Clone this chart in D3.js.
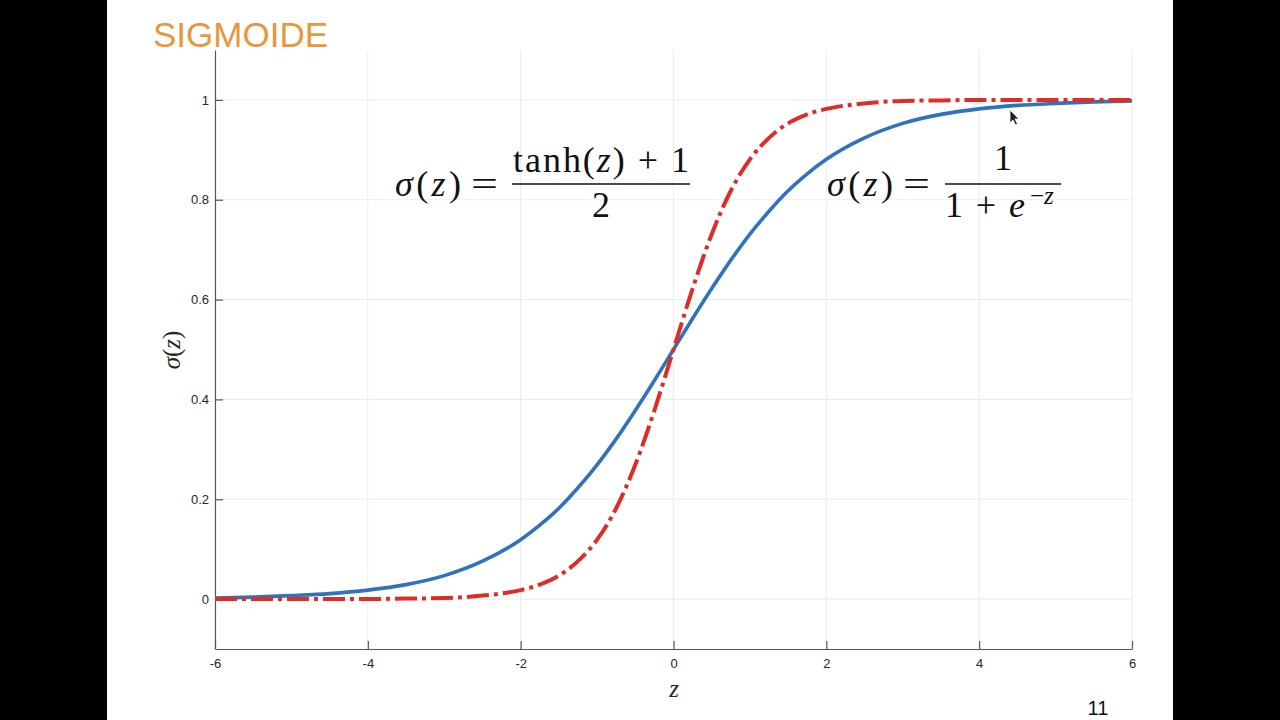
<!DOCTYPE html>
<html>
<head>
<meta charset="utf-8">
<script src="https://cdn.jsdelivr.net/npm/d3@7"></script>
<style>
  body { margin: 0; background: #000; }
  svg { display: block; }
</style>
</head>
<body>
<div id="chart"></div>
<script>
// values
var zValues   = [-6, -5.5, -5, -4.5, -4, -3.5, -3, -2.5, -2, -1.75, -1.5, -1.25, -1, -0.75, -0.5, -0.25,
                 0, 0.25, 0.5, 0.75, 1, 1.25, 1.5, 1.75, 2, 2.5, 3, 3.5, 4, 4.5, 5, 5.5, 6];
var logistic  = [0.002, 0.004, 0.007, 0.011, 0.018, 0.029, 0.047, 0.076, 0.119, 0.148, 0.182, 0.223, 0.269, 0.321, 0.378, 0.438,
                 0.5, 0.562, 0.622, 0.679, 0.731, 0.777, 0.818, 0.852, 0.881, 0.924, 0.953, 0.971, 0.982, 0.989, 0.993, 0.996, 0.998];
var tanhCurve = [0.000, 0.000, 0.000, 0.000, 0.000, 0.001, 0.002, 0.007, 0.018, 0.029, 0.047, 0.076, 0.119, 0.182, 0.269, 0.378,
                 0.5, 0.622, 0.731, 0.818, 0.881, 0.924, 0.953, 0.971, 0.982, 0.993, 0.998, 0.999, 1.000, 1.000, 1.000, 1.000, 1.000];
var xTicks = [-6, -4, -2, 0, 2, 4, 6];
var yTicks = [0, 0.2, 0.4, 0.6, 0.8, 1];
var yTickLabels = ["0", "0.2", "0.4", "0.6", "0.8", "1"];

var width = 1280, height = 720;
var svg = d3.select("#chart").append("svg")
    .attr("width", width)
    .attr("height", height);

// white slide between black bars
svg.append("rect").attr("x", 107).attr("y", 0).attr("width", 1066).attr("height", height).attr("fill", "#fff");

svg.append("text")
    .attr("x", 153).attr("y", 47)
    .attr("font-family", "Liberation Sans, Arial, sans-serif")
    .attr("font-size", 35)
    .attr("fill", "#e8973a")
    .text("SIGMOIDE");

var x = d3.scaleLinear().domain([-6, 6]).range([215, 1132]);
var y = d3.scaleLinear().domain([-0.1, 1.1]).range([649, 50]);

// grid
svg.append("g").selectAll("line").data(xTicks.slice(1)).enter().append("line")
    .attr("x1", d => x(d)).attr("x2", d => x(d))
    .attr("y1", y(-0.1)).attr("y2", y(1.1))
    .attr("stroke", "#ebebeb").attr("stroke-width", 1);
svg.append("g").selectAll("line").data(yTicks).enter().append("line")
    .attr("x1", x(-6)).attr("x2", x(6))
    .attr("y1", d => y(d)).attr("y2", d => y(d))
    .attr("stroke", "#ebebeb").attr("stroke-width", 1);

// axes, ticks inward like matlab
var xAxis = svg.append("g")
    .attr("transform", "translate(0," + y(-0.1) + ")")
    .call(d3.axisBottom(x).tickValues(xTicks).tickSizeInner(-8).tickSizeOuter(0).tickPadding(10).tickFormat(d => String(d)));
var yAxis = svg.append("g")
    .attr("transform", "translate(" + x(-6) + ",0)")
    .call(d3.axisLeft(y).tickValues(yTicks).tickSizeInner(-8).tickSizeOuter(0).tickPadding(6).tickFormat((d, i) => yTickLabels[i]));
[xAxis, yAxis].forEach(function(a){
  a.select(".domain").attr("stroke", "#555").attr("stroke-width", 1.2);
  a.selectAll(".tick line").attr("stroke", "#555").attr("stroke-width", 1.2);
  a.selectAll(".tick text")
    .attr("font-family", "Liberation Sans, Arial, sans-serif")
    .attr("font-size", 13)
    .attr("fill", "#262626");
});

// curves
var line = d3.line()
    .x((d, i) => x(zValues[i]))
    .y(d => y(d))
    .curve(d3.curveMonotoneX);

svg.append("path")
    .datum(logistic)
    .attr("d", line)
    .attr("fill", "none")
    .attr("stroke", "#2f73bd")
    .attr("stroke-width", 3.6);

svg.append("path")
    .datum(tanhCurve)
    .attr("d", line)
    .attr("fill", "none")
    .attr("stroke", "#df2c26")
    .attr("stroke-width", 4)
    .attr("stroke-dasharray", "22,5,4,5");

// formulas
var serif = "Liberation Serif, DejaVu Serif, serif";
function txt(g, x0, yb, size) {
  return g.append("text").attr("x", x0).attr("y", yb)
      .attr("font-family", serif).attr("font-size", size).attr("fill", "#111");
}
function sigmaZ(g, x0, yb) {
  var t = txt(g, x0, yb, 36).attr("textLength", 66).attr("lengthAdjust", "spacing");
  t.append("tspan").attr("font-style", "italic").text("σ");
  t.append("tspan").text("(");
  t.append("tspan").attr("font-style", "italic").text("z");
  t.append("tspan").text(")");
  txt(g, x0 + 76, yb, 36).attr("textLength", 27).attr("lengthAdjust", "spacingAndGlyphs").text("=");
}

var f1 = svg.append("g");
sigmaZ(f1, 395, 196);
var n1 = txt(f1, 513, 172, 36).attr("textLength", 176).attr("lengthAdjust", "spacing");
n1.append("tspan").text("tanh(");
n1.append("tspan").attr("font-style", "italic").text("z");
n1.append("tspan").text(")  +  1");
f1.append("line").attr("x1", 512).attr("x2", 690).attr("y1", 184).attr("y2", 184)
    .attr("stroke", "#111").attr("stroke-width", 1.3);
txt(f1, 601, 217, 36).attr("text-anchor", "middle").text("2");

var f2 = svg.append("g");
sigmaZ(f2, 827, 196);
txt(f2, 1003, 170, 36).attr("text-anchor", "middle").text("1");
f2.append("line").attr("x1", 945).attr("x2", 1061).attr("y1", 184).attr("y2", 184)
    .attr("stroke", "#111").attr("stroke-width", 1.3);
var d2 = txt(f2, 945, 217, 36).attr("textLength", 80).attr("lengthAdjust", "spacing");
d2.append("tspan").text("1  +  ");
d2.append("tspan").attr("font-style", "italic").text("e");
var s2 = txt(f2, 1030, 204, 25);
s2.append("tspan").text("−");
s2.append("tspan").attr("font-style", "italic").text("z");

// axis labels
svg.append("text")
    .attr("transform", "translate(180,350) rotate(-90)")
    .attr("text-anchor", "middle")
    .attr("font-family", serif).attr("font-size", 25).attr("fill", "#262626")
    .html('<tspan font-style="italic">σ</tspan>(<tspan font-style="italic">z</tspan>)');
svg.append("text")
    .attr("x", 674).attr("y", 697)
    .attr("text-anchor", "middle")
    .attr("font-family", serif).attr("font-size", 25).attr("font-style", "italic").attr("fill", "#262626")
    .text("z");

svg.append("text")
    .attr("x", 1098).attr("y", 715)
    .attr("text-anchor", "middle")
    .attr("font-family", "Liberation Sans, Arial, sans-serif")
    .attr("font-size", 20).attr("fill", "#111")
    .text("11");

// mouse pointer left in the screenshot
svg.append("path")
    .attr("d", "M1010,110 l0,13 l3,-3 l2.5,5 l2,-1 l-2.5,-5 l4,0 z")
    .attr("fill", "#222").attr("stroke", "#fff").attr("stroke-width", 0.8);
</script>
</body>
</html>
